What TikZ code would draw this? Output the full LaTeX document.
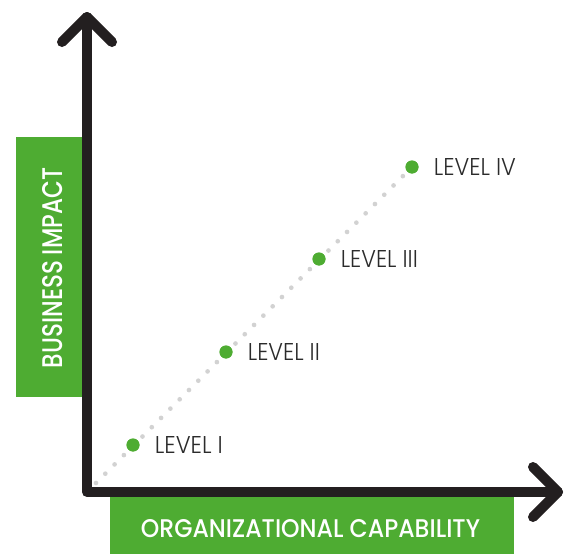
\documentclass[tikz,border=0pt]{standalone}
\usepackage{fontspec}
\usepackage{graphicx}
\setmainfont{Poppins}
\newfontfamily\thinfont{Poppins Light}
\newfontfamily\axisfont{Poppins Medium}
\usetikzlibrary{positioning}

\definecolor{bizgreen}{HTML}{4EAC32}
\definecolor{axisblack}{HTML}{231F20}
\definecolor{trailgrey}{HTML}{D2D2D2}
\definecolor{labelgrey}{HTML}{2B2B2B}

\newcommand{\lvlabel}[2]{\resizebox{#1pt}{17pt}{#2}}

\begin{document}
\begin{tikzpicture}[x=1pt,y=-1pt,
    axis/.style={line width=10pt,axisblack,line cap=round,line join=round},
    trail/.style={line width=4.7pt,trailgrey,line cap=round,dash pattern=on 0pt off 13.15pt},
    lvdot/.style={circle,fill=bizgreen,inner sep=0pt,minimum size=13pt},
    lvtext/.style={inner sep=0pt,labelgrey,font=\thinfont},
    axisname/.style={white,inner sep=0pt,font=\axisfont}]
    \useasboundingbox (0,0) rectangle (566,554);

    % Green label boxes
    \fill[bizgreen] (16,137) rectangle (82,397);
    \fill[bizgreen] (110,497) rectangle (514,554);
    \node[axisname,rotate=90] (yname) at (53,268)
        {\resizebox{200pt}{20pt}{BUSINESS IMPACT}};
    \node[axisname] (xname) at (310.5,529)
        {\resizebox{339pt}{18pt}{ORGANIZATIONAL CAPABILITY}};

    % Axes
    \coordinate (origin) at (87,492);
    \coordinate (ytip) at (87,17);
    \coordinate (xtip) at (558,492);
    \draw[axis] (ytip) -- (origin) -- (xtip);
    \draw[axis] (ytip) ++(-25,25) -- (ytip) -- ++(25,25);
    \draw[axis] (xtip) ++(-25,-25) -- (xtip) -- ++(-25,25);

    % Levels
    \coordinate (trailstart) at (96,483);
    \node[lvdot] (lv1) at (133,445) {};
    \node[lvdot] (lv2) at (226,352) {};
    \node[lvdot] (lv3) at (319,259) {};
    \node[lvdot] (lv4) at (412,167) {};
    \draw[trail] (trailstart) -- (lv4.center);
    \foreach \i in {1,...,4}
        \node[lvdot] at (lv\i) {};

    \node[lvtext,right=15pt of lv1] (t1) {\lvlabel{68}{LEVEL I}};
    \node[lvtext,right=15pt of lv2] (t2) {\lvlabel{72}{LEVEL II}};
    \node[lvtext,right=15pt of lv3] (t3) {\lvlabel{77}{LEVEL III}};
    \node[lvtext,right=15pt of lv4] (t4) {\lvlabel{82}{LEVEL IV}};
\end{tikzpicture}
\end{document}
